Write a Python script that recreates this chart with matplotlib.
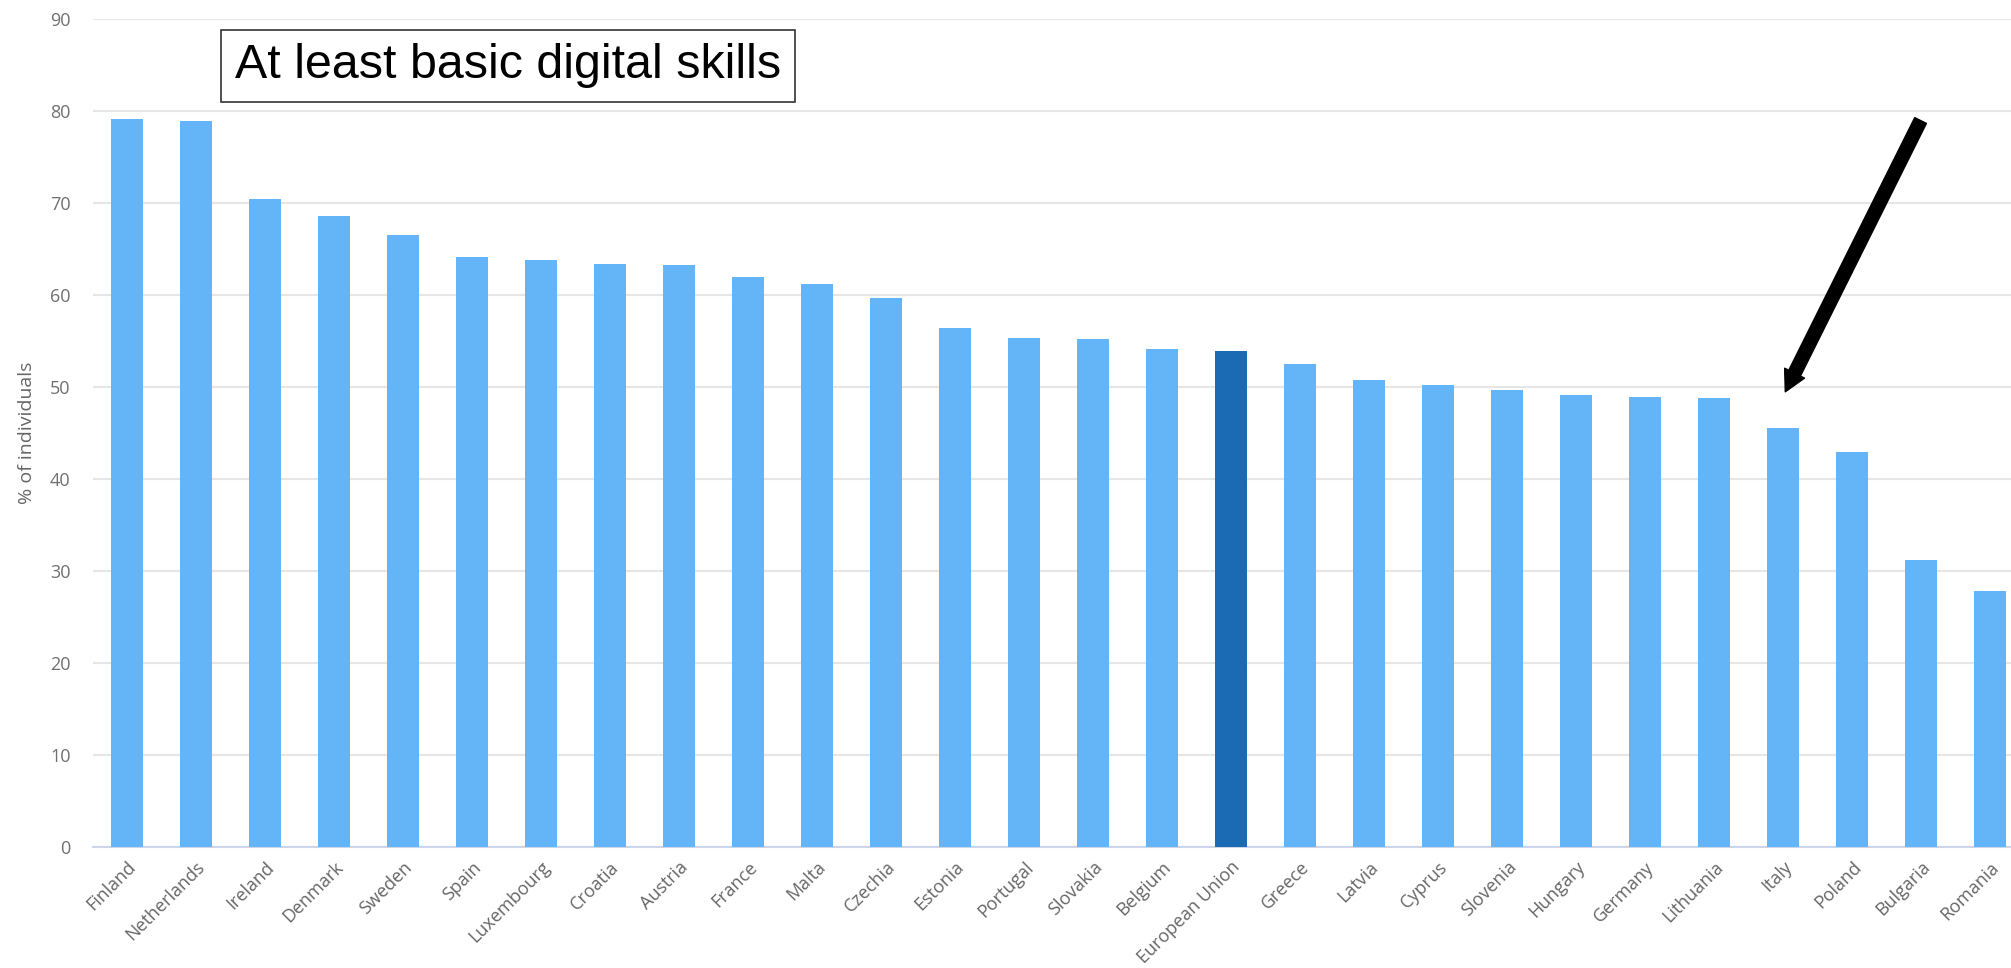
import numpy as np
import matplotlib.pyplot as plt

# paesi e valori (% di individui con competenze digitali almeno di base)
paesi = ["Finland", "Netherlands", "Ireland", "Denmark", "Sweden", "Spain",
         "Luxembourg", "Croatia", "Austria", "France", "Malta", "Czechia",
         "Estonia", "Portugal", "Slovakia", "Belgium", "European Union",
         "Greece", "Latvia", "Cyprus", "Slovenia", "Hungary", "Germany",
         "Lithuania", "Italy", "Poland", "Bulgaria", "Romania"]
valori = [79.2, 78.9, 70.5, 68.6, 66.5, 64.2, 63.8, 63.4, 63.3, 62.0, 61.2, 59.7,
          56.4, 55.3, 55.2, 54.2, 53.9, 52.5, 50.8, 50.2, 49.7, 49.1, 48.9,
          48.8, 45.6, 42.9, 31.2, 27.8]
y_ticks = [0, 10, 20, 30, 40, 50, 60, 70, 80, 90]

chiaro = "#64b5f8"
scuro = "#1b6bb4"
colori = [scuro if p == "European Union" else chiaro for p in paesi]

fig = plt.figure(figsize=(20.11, 9.68), dpi=100)
ax = fig.add_axes([0.0462, 0.125, 0.9538, 0.855])

x = np.arange(len(paesi))
ax.bar(x, valori, width=0.46, color=colori, zorder=3)

ax.set_xlim(-0.49, 27.3)
ax.set_ylim(0, 90)
ax.set_yticks(y_ticks)
ax.yaxis.grid(True, color="#e6e6e6", linewidth=1.5, zorder=0)
ax.set_axisbelow(True)

for lato in ["top", "right", "left"]:
    ax.spines[lato].set_visible(False)
ax.spines["bottom"].set_color("#ccd6eb")
ax.spines["bottom"].set_linewidth(1.5)

ax.set_xticks(x)
ax.set_xticklabels(paesi, rotation=45, ha="right", rotation_mode="anchor",
                   fontsize=13, color="#666666", family="Open Sans")
ax.tick_params(axis="x", length=0, pad=8)
ax.tick_params(axis="y", length=0, pad=16, labelsize=13, labelcolor="#707070")
for t in ax.get_yticklabels():
    t.set_family("Open Sans")

ax.set_ylabel("% of individuals", fontsize=14, color="#666666",
              family="Open Sans", labelpad=10)

# riquadro del titolo
fig.text(0.2526, 0.932, "At least basic digital skills", fontsize=34.8,
         family="Liberation Sans", color="black", ha="center", va="center",
         bbox=dict(boxstyle="square,pad=0.28", facecolor="white",
                   edgecolor="#333333", linewidth=1.2))

# freccia verso l'Italia
ax.annotate("", xy=(24.03, 49.5), xytext=(25.99, 79.0),
            arrowprops=dict(facecolor="black", edgecolor="black", width=9.4,
                            headwidth=16, headlength=15, shrink=0),
            zorder=5)

fig.savefig("out.png", dpi=100)
